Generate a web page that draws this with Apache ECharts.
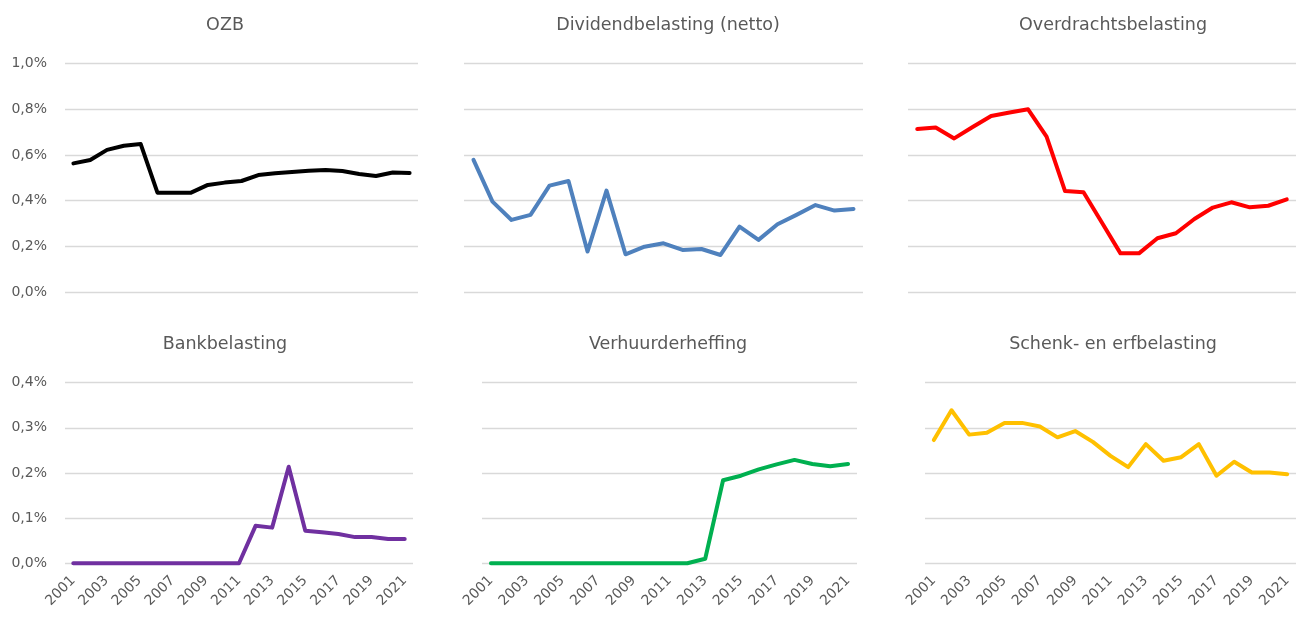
<!DOCTYPE html>
<html>
<head>
<meta charset="utf-8">
<script src="https://cdn.jsdelivr.net/npm/echarts@6/dist/echarts.min.js"></script>
<style>
  html, body { margin: 0; padding: 0; background: #ffffff; }
  #chart { width: 1296px; height: 617px; }
</style>
</head>
<body>
<div id="chart"></div>
<script>
// Years on the category axis
const years = ['2001','2002','2003','2004','2005','2006','2007','2008','2009','2010',
               '2011','2012','2013','2014','2015','2016','2017','2018','2019','2020','2021'];

// Tax revenue as a share (%), one series per panel
const ozb = [0.563,0.578,0.622,0.640,0.648,0.435,0.435,0.435,0.469,0.479,
             0.486,0.512,0.520,0.525,0.531,0.534,0.530,0.517,0.508,0.523,0.521];
const dividendbelasting = [0.578,0.396,0.316,0.338,0.466,0.486,0.178,0.444,0.166,0.199,
             0.214,0.185,0.189,0.163,0.287,0.229,0.297,0.338,0.381,0.357,0.364];
const overdrachtsbelasting = [0.713,0.720,0.672,0.722,0.770,0.785,0.799,0.680,0.442,0.437,
             0.304,0.170,0.170,0.236,0.258,0.320,0.370,0.393,0.371,0.378,0.406];
const bankbelasting = [0,0,0,0,0,0,0,0,0,0,
             0,0.083,0.079,0.214,0.072,0.069,0.065,0.058,0.058,0.054,0.054];
const verhuurderheffing = [0,0,0,0,0,0,0,0,0,0,
             0,0,0.010,0.184,0.194,0.208,0.219,0.229,0.220,0.215,0.220];
const schenkErfbelasting = [0.273,0.339,0.285,0.289,0.311,0.311,0.303,0.279,0.293,0.269,
             0.238,0.213,0.264,0.227,0.235,0.264,0.194,0.225,0.201,0.201,0.197];

const panelTitles = ['OZB','Dividendbelasting (netto)','Overdrachtsbelasting',
                     'Bankbelasting','Verhuurderheffing','Schenk- en erfbelasting'];
const panelSeries = [ozb, dividendbelasting, overdrachtsbelasting,
                     bankbelasting, verhuurderheffing, schenkErfbelasting];
const panelColors = ['#000000','#4f81bd','#ff0000','#7030a0','#00b050','#ffc000'];

// Panel placement: [left, top, width, height]
const panelBoxes = [
  [65, 63.3, 353, 229],
  [464, 63.3, 399, 229],
  [908, 63.3, 399, 229],
  [65, 382.7, 348, 180.6],
  [482, 382.7, 375, 180.6],
  [925, 382.7, 378, 180.6]
];
const titleCenters = [[220, 11], [663, 11], [1108, 11], [220, 330], [663, 330], [1108, 330]];

const fontFamily = '"DejaVu Sans", Verdana, sans-serif';
const textColor = '#595959';
const pct = v => v.toFixed(1).replace('.', ',') + '%';

const grid = [], xAxis = [], yAxis = [], series = [], title = [];
panelSeries.forEach((data, i) => {
  const [l, t, w, h] = panelBoxes[i];
  const bottomRow = i >= 3;
  const leftCol = i % 3 === 0;
  grid.push({ left: l, top: t, width: w, height: h, containLabel: false });
  title.push({
    text: panelTitles[i],
    left: titleCenters[i][0], top: titleCenters[i][1], textAlign: 'center',
    textStyle: { fontFamily, fontSize: 17.5, fontWeight: 'normal', color: textColor }
  });
  xAxis.push({
    type: 'category', gridIndex: i, data: years, boundaryGap: true,
    axisLine: { show: false }, axisTick: { show: false },
    axisLabel: {
      show: bottomRow, interval: 1, rotate: 45, margin: 15,
      fontFamily, fontSize: 14, color: textColor
    },
    splitLine: { show: false }
  });
  yAxis.push({
    type: 'value', gridIndex: i, min: 0,
    max: bottomRow ? 0.4 : 1.0, interval: bottomRow ? 0.1 : 0.2,
    axisLine: { show: false }, axisTick: { show: false },
    axisLabel: {
      show: leftCol, formatter: pct, margin: 18,
      fontFamily, fontSize: 14, color: textColor
    },
    splitLine: { lineStyle: { color: '#d9d9d9', width: 1.3 } }
  });
  series.push({
    type: 'line', xAxisIndex: i, yAxisIndex: i, data,
    symbol: 'none', smooth: false, silent: true, clip: false,
    lineStyle: { color: panelColors[i], width: 4, cap: 'round', join: 'round' }
  });
});

const chart = echarts.init(document.getElementById('chart'), null, { renderer: 'canvas' });
chart.setOption({
  animation: false,
  backgroundColor: '#ffffff',
  title, grid, xAxis, yAxis, series
});
</script>
</body>
</html>
